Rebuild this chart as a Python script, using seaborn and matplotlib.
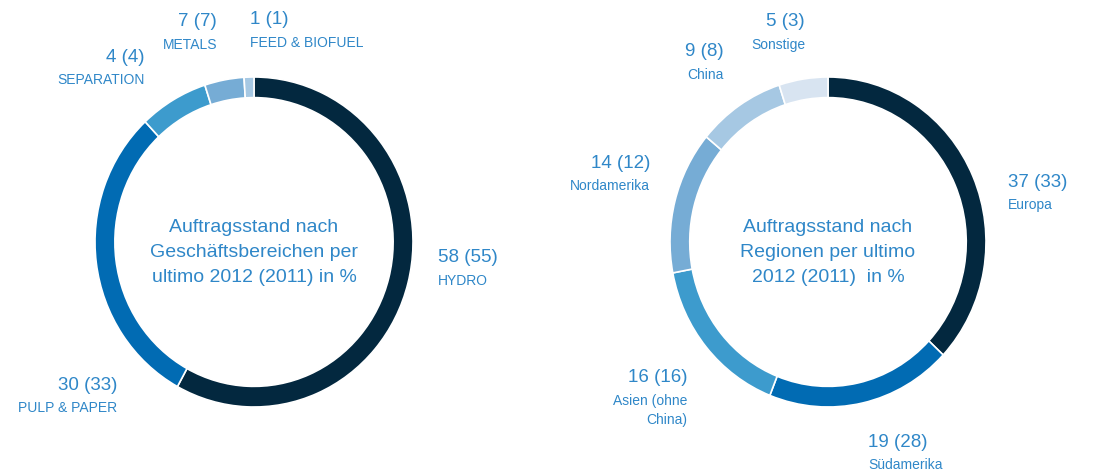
import matplotlib
matplotlib.use("Agg")
import matplotlib.pyplot as plt
import seaborn as sns

# Auftragsstand nach Geschaeftsbereichen (clockwise from 12 o'clock)
div_names = ["HYDRO", "PULP & PAPER", "METALS", "SEPARATION", "FEED & BIOFUEL"]
div_2012 = [58, 30, 7, 4, 1]
div_2011 = [55, 33, 7, 4, 1]

# Auftragsstand nach Regionen
reg_names = ["Europa", "Südamerika", "Asien (ohne\nChina)", "Nordamerika", "China", "Sonstige"]
reg_2012 = [37, 19, 16, 14, 9, 5]
reg_2011 = [33, 28, 16, 12, 8, 3]

div_colors = sns.color_palette(["#03283f", "#016bb3", "#3d9bcd", "#76acd5", "#a6c8e3"])
reg_colors = sns.color_palette(["#03283f", "#016bb3", "#3d9bcd", "#76acd5", "#a6c8e3", "#d8e4f1"])

TXT = "#2f87c8"
W, H = 1105, 473

sns.set_theme(style="white")
plt.rcParams["font.family"] = ["Liberation Sans", "DejaVu Sans"]

fig = plt.figure(figsize=(W / 100, H / 100), dpi=100)
fig.patch.set_facecolor("white")


def donut(cx, cy, rx, ry, values, colors):
    ax = fig.add_axes([(cx - rx) / W, 1 - (cy + ry) / H, 2 * rx / W, 2 * ry / H])
    ax.pie(values, colors=colors, startangle=90, counterclock=False,
           wedgeprops=dict(width=0.125, edgecolor="white", linewidth=1.2))
    ax.set_aspect("auto")
    ax.set_xlim(-1, 1)
    ax.set_ylim(-1, 1)
    ax.axis("off")
    return ax


def label(x, y, value, prev, name, ha):
    fig.text(x / W, 1 - y / H, f"{value} ({prev})", ha=ha, va="center",
             fontsize=13.5, color=TXT)
    fig.text(x / W, 1 - (y + 16) / H, name, ha=ha, va="top",
             fontsize=10, color=TXT, linespacing=1.45)


def center_text(cx, lines):
    for i, line in enumerate(lines):
        fig.text(cx / W, 1 - (227 + 25 * i) / H, line, ha="center", va="center",
                 fontsize=14, color=TXT)


donut(254, 242, 159, 165, div_2012, div_colors)
donut(828, 242, 158, 165, reg_2012, reg_colors)

# label anchors (px) for each division
div_pos = [(438, 258, "left"), (117, 385, "right"), (217, 22, "right"),
           (145, 57, "right"), (250, 20, "left")]
for (x, y, ha), v, p, n in zip(div_pos, div_2012, div_2011, div_names):
    label(x, y, v, p, n, ha)

reg_pos = [(1008, 182, "left"), (868, 442, "left"), (687, 378, "right"),
           (650, 163, "right"), (724, 52, "right"), (805, 22, "right")]
for (x, y, ha), v, p, n in zip(reg_pos, reg_2012, reg_2011, reg_names):
    label(x, y, v, p, n, ha)

center_text(254, ["Auftragsstand nach", "Geschäftsbereichen per", "ultimo 2012 (2011) in %"])
center_text(828, ["Auftragsstand nach", "Regionen per ultimo", "2012 (2011)  in %"])

fig.savefig("out.png", dpi=100, facecolor="white")
plt.close(fig)
